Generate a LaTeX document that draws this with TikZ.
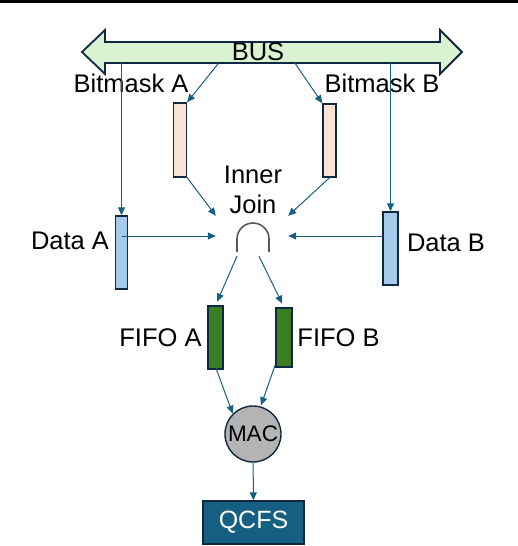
\documentclass[tikz,border=0pt]{standalone}
\usepackage{fontspec}
\setmainfont{Liberation Sans}
\usetikzlibrary{positioning, arrows.meta}
\definecolor{linkblue}{HTML}{156082}
\definecolor{edgedark}{HTML}{0E2841}
\definecolor{busgreen}{HTML}{D9F2D0}
\definecolor{maskpeach}{HTML}{FBE3D6}
\definecolor{datablue}{HTML}{A6CAEC}
\definecolor{fifogreen}{HTML}{3B7D23}
\definecolor{macgray}{HTML}{B4B4B4}
\definecolor{joingray}{HTML}{595959}
\tikzset{
  bar/.style={
    draw=edgedark,
    line width=1.4pt,
    rectangle,
    inner sep=0pt
  },
  link/.style={
    draw=linkblue,
    line width=1pt,
    -{Triangle[length=8pt,width=7pt]}
  },
  lbl/.style={
    font=\fontsize{25.5}{29}\selectfont,
    inner sep=0pt
  }
}

\begin{document}
\begin{tikzpicture}[x=1pt, y=-1pt]
    \useasboundingbox (0,0) rectangle (518,546);
    \draw[line width=3pt] (0,1.5) -- (518,1.5);

    % bus
    \draw[draw=edgedark, line width=1.8pt, fill=busgreen, line join=miter]
      (82,52) -- (105,30) -- (105,42) -- (440,42) -- (440,30) -- (462,52)
      -- (440,74) -- (440,63) -- (105,63) -- (105,74) -- cycle;
    \node[inner sep=0pt, minimum width=335pt, minimum height=21pt] (shaft) at (272.5,52.5) {};
    \node[lbl] (buslbl) at (258,51.5) {BUS};

    % bitmasks and data
    \node[bar, fill=maskpeach, minimum width=13pt, minimum height=74pt] (bmA) at (180,140) {};
    \node[bar, fill=maskpeach, minimum width=13pt, minimum height=73pt] (bmB) at (329.5,140.5) {};
    \node[bar, fill=datablue, minimum width=12pt, minimum height=73pt] (dataA) at (121.5,252.5) {};
    \node[bar, fill=datablue, minimum width=15pt, minimum height=73pt] (dataB) at (390.5,248.5) {};
    \node[lbl] (bmAlbl) at (131,83) {Bitmask A};
    \node[lbl] (bmBlbl) at (382,83) {Bitmask B};
    \node[lbl] (dataAlbl) at (70,241) {Data A};
    \node[lbl] (dataBlbl) at (446,243) {Data B};

    % inner join
    \node[lbl, align=center] (joinlbl) at (253,190) {Inner\\[1pt]Join};
    \node[inner sep=0pt, minimum width=72pt, minimum height=40pt] (join) at (252,236) {};
    \draw[joingray, line width=1.6pt] (237,252) -- (237,239) arc[start angle=180, end angle=0, radius=16pt] -- (269,252);

    % fifos, mac, output
    \node[bar, fill=fifogreen, minimum width=15pt, minimum height=63pt] (fifoA) at (215.5,337.5) {};
    \node[bar, fill=fifogreen, minimum width=16pt, minimum height=59pt] (fifoB) at (284,337.5) {};
    \node[lbl] (fifoAlbl) at (160.5,338) {FIFO A};
    \node[lbl] (fifoBlbl) at (338.5,338) {FIFO B};
    \node[circle, draw=edgedark, line width=1.4pt, fill=macgray, minimum size=56pt, inner sep=0pt,
          font=\fontsize{22.5}{26}\selectfont] (mac) at (253,434) {MAC};
    \node[bar, fill=linkblue, minimum width=101pt, minimum height=43pt, text=white,
          font=\fontsize{25}{29}\selectfont] (qcfs) at (253.5,522.5) {QCFS};

    \draw[link] (dataA.north |- shaft.south) -- (dataA.north);
    \draw[link] (dataB.north |- shaft.south) -- (dataB.north);
    \draw[link] ([xshift=-54pt]shaft.south) -- (bmA.north east);
    \draw[link] ([xshift=22.5pt]shaft.south) -- (bmB.north west);
    \draw[link] (bmA.south east) -- (join.north west);
    \draw[link] (bmB.south) -- (join.north east);
    \draw[link] (dataA.center |- join.west) -- (join.west);
    \draw[link] (dataB.west |- join.east) -- (join.east);
    \draw[link, shorten >=4pt] ([xshift=-15pt]join.south) -- (fifoA.north);
    \draw[link, shorten >=4pt] ([xshift=7pt]join.south) -- (fifoB.north);
    \draw[link] ([yshift=3pt]fifoA.south) -- (mac.north west);
    \draw[link] ([yshift=3pt]fifoB.south west) -- ([xshift=8pt]mac.north);
    \draw[link] (mac) -- (qcfs);
\end{tikzpicture}
\end{document}
